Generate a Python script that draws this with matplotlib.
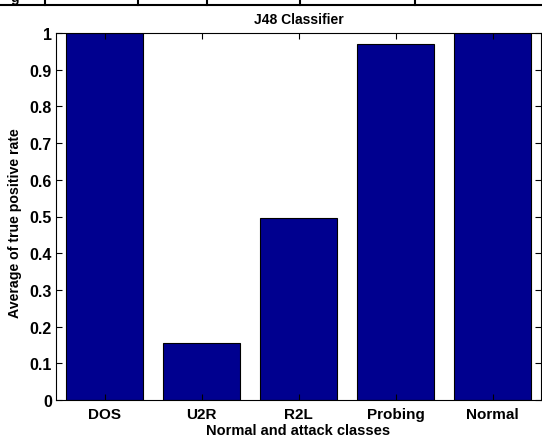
import matplotlib
matplotlib.use("Agg")
import matplotlib.pyplot as plt
from matplotlib.lines import Line2D

categories = ["DOS", "U2R", "R2L", "Probing", "Normal"]
values = [1.0, 0.155, 0.497, 0.970, 1.0]
yticks = [0, 0.1, 0.2, 0.3, 0.4, 0.5, 0.6, 0.7, 0.8, 0.9, 1]
yticklabels = ["0", "0.1", "0.2", "0.3", "0.4", "0.5", "0.6", "0.7", "0.8", "0.9", "1"]

plt.rcParams['font.family'] = ['Liberation Sans', 'DejaVu Sans']
W, H = 542, 439
fig = plt.figure(figsize=(W / 100, H / 100), dpi=100)
left, right, top, bottom = 56, 541, 34, 401
ax = fig.add_axes([left / W, 1 - bottom / H, (right - left) / W, (bottom - top) / H])

x = list(range(1, len(categories) + 1))
ax.bar(x, values, width=0.8, color=(0, 0, 0.5625), edgecolor='black', linewidth=0.8)
ax.set_xlim(0.5, 5.5)
ax.set_ylim(0, 1)
ax.set_xticks(x)
ax.set_xticklabels(categories, fontweight='bold', fontsize=11)
ax.set_yticks(yticks)
ax.set_yticklabels(yticklabels, fontweight='bold', fontsize=11.5)
ax.tick_params(direction='in', top=True, right=True, length=4, width=0.8)
ax.tick_params(axis='y', pad=3)
ax.tick_params(axis='x', pad=5)
for s in ax.spines.values():
    s.set_linewidth(0.8)
ax.set_title("J48 Classifier", fontweight='bold', fontsize=10, pad=7.5)
ax.set_xlabel("Normal and attack classes", fontweight='bold', fontsize=10.5, labelpad=1.5)
ax.set_ylabel("Average of true positive rate", fontweight='bold', fontsize=10.2)
ax.yaxis.set_label_coords(-0.071, 0.485)

# scrap of document table at the top edge
y_line = 1 - 6 / H
fig.add_artist(Line2D([0, 1], [y_line, y_line], transform=fig.transFigure, color='black', linewidth=1.5))
for xp in [45, 138, 207, 300, 415]:
    fig.add_artist(Line2D([xp / W, xp / W], [y_line, 1], transform=fig.transFigure, color='black', linewidth=1.5))
fig.text(15 / W, 1 - 2 / H, "g", fontsize=10, fontweight='bold', ha='center', va='baseline')

fig.savefig("out.png", dpi=100)
